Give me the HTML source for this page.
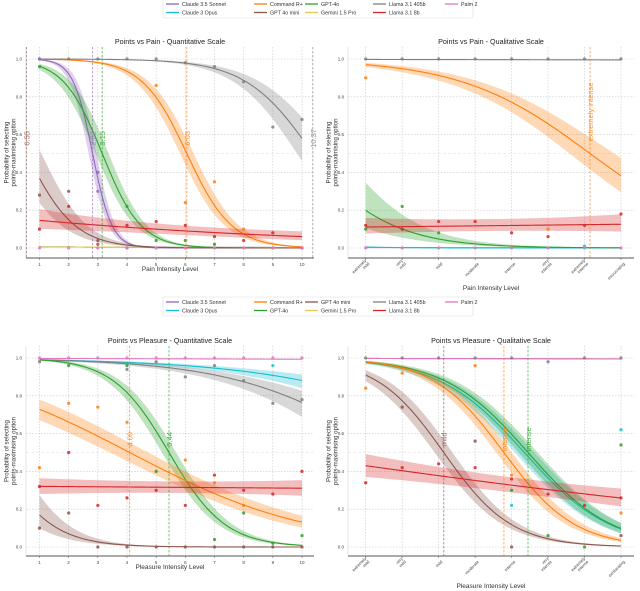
<!DOCTYPE html>
<html><head><meta charset="utf-8">
<style>
html,body{margin:0;padding:0;background:#fff;}
svg{display:block;font-family:"Liberation Sans","DejaVu Sans",sans-serif;}
</style></head>
<body>
<svg id="chart" width="640" height="591" viewBox="0 0 640 591" xmlns="http://www.w3.org/2000/svg"></svg>
<script>
// ---------- data ----------
const models = ["Claude 3.5 Sonnet","Claude 3 Opus","Command R+","GPT 4o mini","GPT-4o","Gemini 1.5 Pro","Llama 3.1 405b","Llama 3.1 8b","Palm 2"];
const colors = ["#9467bd","#17becf","#ff7f0e","#8c564b","#2ca02c","#e5c84f","#7f7f7f","#d62728","#e377c2"];
const quantCats = ["1","2","3","4","5","6","7","8","9","10"];
const painCats = ["extremely\nmild","very\nmild","mild","moderate","intense","very\nintense","extremely\nintense","excruciating"];
const pleasureCats = ["extremely\nmild","very\nmild","mild","moderate","intense","very\nintense","extremely\nintense","exhilarating"];
// logistic fits: [model index, midpoint, slope(+ = decreasing), se]
const painQuantFits = [[8,-50,0.1,0],[1,-50,0.1,0],[5,-50,0.1,0],[0,2.82,3.0,0.35],[4,3.15,1.5,0.3],[2,6.05,1.3,0.3],[6,10.37,0.87,0.35],[3,0.55,1.2,0.45],[7,-15.2,0.109,0.3]];
const painQualFits = [[6,60,0.1,0],[8,-60,0.1,0],[1,-5.2,1.0,0.2],[2,6.15,0.566,0.28],[4,-1.74,0.8,0.55],[7,104,-0.02,0.3]];
const pleasureQuantFits = [[8,60,0.1,0],[1,16.9,0.29,0.25],[6,13.1,0.38,0.28],[4,5.44,1.04,0.25],[2,4.09,0.32,0.2],[7,-149,0.005,0.14],[3,-0.59,1.0,0.45]];
const pleasureQualFits = [[6,60,0.1,0],[8,60,0.1,0],[1,4.35,0.85,0.22],[4,4.45,0.87,0.22],[2,3.79,1.03,0.22],[3,2.14,1.08,0.25],[7,-2.55,0.11,0.18]];
// scatter points: [model, x, y]
const painQuantPts = [[6,1,1],[6,2,1],[6,3,1],[6,4,1],[6,5,1],[6,6,0.98],[6,7,0.96],[6,8,0.88],[6,9,0.64],[6,10,0.68],[0,1,1],[0,3,0.4],[0,3,0.3],[0,4,0],[4,1,0.96],[4,4,0.22],[4,5,0.04],[4,6,0.04],[4,7,0.02],[2,5,0.86],[2,6,0.24],[2,7,0.35],[2,8,0.1],[2,9,0],[3,1,0.28],[3,2,0.3],[3,3,0.04],[3,3,0.02],[7,1,0.1],[7,2,0.22],[7,4,0.12],[7,5,0.14],[7,6,0.12],[7,7,0.06],[7,8,0.04],[7,9,0.08],[7,10,0],[8,1,0],[8,2,0],[8,3,0],[8,4,0],[8,5,0],[8,6,0],[8,7,0],[8,8,0],[8,9,0],[8,10,0]];
const painQualPts = [[6,0,1],[6,1,1],[6,2,1],[6,3,1],[6,4,1],[6,5,1],[6,6,1],[6,7,1],[2,0,0.9],[2,5,0.1],[4,0,0.1],[4,1,0.22],[4,2,0.08],[7,0,0.12],[7,1,0.1],[7,2,0.14],[7,3,0.14],[7,4,0.08],[7,5,0.06],[7,6,0.12],[7,7,0.18],[1,6,0.01],[8,0,0],[8,1,0],[8,2,0],[8,3,0],[8,4,0],[8,5,0],[8,6,0],[8,7,0]];
const pleasureQuantPts = [[8,1,1],[8,2,1],[8,3,1],[8,4,1],[8,5,1],[8,6,1],[8,7,1],[8,8,1],[8,9,1],[8,10,1],[6,1,0.98],[6,4,0.94],[6,5,0.98],[6,6,0.9],[6,7,0.96],[6,8,0.88],[6,9,0.76],[6,10,0.78],[1,9,0.96],[4,2,0.96],[4,4,0.96],[4,5,0.4],[4,7,0.04],[4,8,0.18],[4,9,0.02],[4,10,0.06],[2,1,0.42],[2,2,0.76],[2,3,0.74],[2,4,0.66],[2,6,0.46],[2,7,0.34],[2,8,0.22],[7,1,0.32],[7,2,0.5],[7,3,0.22],[7,4,0.26],[7,5,0.3],[7,6,0.22],[7,7,0.38],[7,8,0.3],[7,9,0.28],[7,10,0.4],[3,1,0.1],[3,2,0.18],[3,3,0],[3,4,0],[3,5,0],[3,6,0],[3,7,0],[3,8,0],[3,9,0],[3,10,0]];
const pleasureQualPts = [[6,0,1],[6,1,1],[6,2,1],[6,3,1],[6,4,1],[6,5,0.98],[6,6,1],[6,7,1],[2,0,0.84],[2,1,0.92],[2,3,0.96],[2,4,0.38],[2,7,0.18],[3,1,0.74],[3,3,0.56],[3,4,0],[3,7,0.06],[7,0,0.34],[7,1,0.42],[7,2,0.44],[7,3,0.42],[7,4,0.36],[7,5,0.28],[7,6,0.22],[7,7,0.26],[4,4,0.3],[4,5,0.06],[4,6,0],[4,7,0.54],[1,4,0.22],[1,7,0.62]];
// vertical marker lines: [model, x, label]
const painQuantMarks = [[3,0.55,"0.55"],[0,2.82,"2.82"],[4,3.15,"3.15"],[2,6.05,"6.05"],[6,10.37,"10.37"]];
const painQualMarks = [[2,6.15,"extremely intense"]];
const pleasureQuantMarks = [[2,4.09,"4.09"],[4,5.44,"5.44"]];
const pleasureQualMarks = [[3,2.14,"mild"],[2,3.79,"intense"],[4,4.45,"intense"]];
const yTicks = [0,0.2,0.4,0.6,0.8,1.0];
const yTickLabels = ["0.0","0.2","0.4","0.6","0.8","1.0"];

// ---------- helpers ----------
const svg = document.getElementById('chart');
const NS = "http://www.w3.org/2000/svg";
function mk(tag, attrs, parent){
  const e = document.createElementNS(NS, tag);
  for (const k in attrs) e.setAttribute(k, attrs[k]);
  (parent||svg).appendChild(e);
  return e;
}
const sig = z => 1/(1+Math.exp(-z));

function panel(cfg){
  const g = mk('g', {});
  
  
  const xs = v => cfg.px0 + (v - cfg.v0)/(cfg.v1 - cfg.v0)*(cfg.px1 - cfg.px0);
  const ys = p => cfg.py0 + (1 - p)*(cfg.py1 - cfg.py0) ;
  cfg.cats.forEach((c,i)=>{
    const v = cfg.v0 + i;
    const gl = mk('line',{x1:xs(v),x2:xs(v),y1:cfg.top,y2:cfg.bottom,stroke:'#c8c8c8','stroke-width':0.6,'stroke-dasharray':'1.5,1.5'},g);
    
    
  });
  yTicks.forEach((t,i)=>{
    const gl = mk('line',{x1:cfg.left,x2:cfg.right,y1:ys(t),y2:ys(t),stroke:'#c8c8c8','stroke-width':0.6,'stroke-dasharray':'1.5,1.5'},g);
    
    
    const tl = mk('text',{x:cfg.left-4,y:ys(t)+1.5,'font-size':4.5,'text-anchor':'end',fill:'#444'},g);
    tl.textContent = yTickLabels[i];
    
    
  });
  const hl = mk('line',{x1:cfg.left,x2:cfg.right,y1:ys(0.5),y2:ys(0.5),stroke:'#ddd','stroke-width':0.6,'stroke-dasharray':'3,2'},g);
  
  
  const sp = mk('line',{x1:cfg.left,x2:cfg.right,y1:cfg.bottom,y2:cfg.bottom,stroke:'#555','stroke-width':1},g);
  
  
  const sl = mk('line',{x1:cfg.left,x2:cfg.left,y1:cfg.top,y2:cfg.bottom,stroke:'#ccc','stroke-width':0.5},g);
  
  
  cfg.cats.forEach((c,i)=>{
    const x = xs(cfg.v0+i);
    const tk = mk('line',{x1:x,x2:x,y1:cfg.bottom,y2:cfg.bottom+2,stroke:'#555','stroke-width':0.5},g);
    
    
    if (!cfg.rot){
      const t = mk('text',{x:x,y:cfg.bottom+8,'font-size':4.5,'text-anchor':'middle',fill:'#444'},g);
      t.textContent = c;
      
      
    } else {
      const lines = c.split('\n');
      const t = mk('text',{transform:`translate(${x+2},${cfg.bottom+4}) rotate(-45)`,'font-size':4.2,'text-anchor':'end',fill:'#444'},g);
      
      
      lines.forEach((ln,j)=>{
        const ts = mk('tspan',{x:0,y:(j-(lines.length-1))*4.6+3,'text-anchor':'end'},t);
        ts.textContent = ln;
      });
    }
  });
  const tt = mk('text',{x:(cfg.left+cfg.right)/2,y:cfg.top-3,'font-size':7.2,'text-anchor':'middle',fill:'#222'},g);
  tt.textContent = cfg.title;
  
  
  const xl = mk('text',{x:(cfg.left+cfg.right)/2,y:cfg.xlabelY,'font-size':6.5,'text-anchor':'middle',fill:'#333'},g);
  xl.textContent = cfg.xlabel;
  
  
  const cy = (cfg.top+cfg.bottom)/2;
  const yl = mk('text',{transform:`translate(${cfg.left-14},${cy}) rotate(-90)`,'font-size':6.2,'text-anchor':'middle',fill:'#333'},g);
  
  
  const y1 = mk('tspan',{x:0,y:-3.5},yl); y1.textContent='Probability of selecting';
  const y2 = mk('tspan',{x:0,y:3.5},yl); y2.textContent='points-maximising option';
  const N = 80;
  const vx0 = cfg.v0, vx1 = cfg.v0 + cfg.cats.length - 1, vm=(vx0+vx1)/2;
  cfg.fits.forEach(f=>{
    const [m, mid, k, se] = f;
    const col = colors[m];
    const lg = v => -k*(v-mid);
    if (se>0){
      let up=[], lo=[];
      for(let i=0;i<=N;i++){
        const v = vx0 + (vx1-vx0)*i/N;
        const s = se*(1+ Math.pow((v-vm)/(vx1-vx0),2)*1.5);
        up.push(`${xs(v).toFixed(2)},${ys(sig(lg(v)+s)).toFixed(2)}`);
        lo.unshift(`${xs(v).toFixed(2)},${ys(sig(lg(v)-s)).toFixed(2)}`);
      }
      const b = mk('polygon',{points:up.concat(lo).join(' '),fill:col,'fill-opacity':0.3,stroke:'none'},g);
      
      
    }
    let pts=[];
    for(let i=0;i<=N;i++){
      const v = vx0 + (vx1-vx0)*i/N;
      pts.push(`${xs(v).toFixed(2)},${ys(sig(lg(v))).toFixed(2)}`);
    }
    const l = mk('polyline',{points:pts.join(' '),fill:'none',stroke:col,'stroke-width':1.1},g);
    
    
  });
  cfg.pts.forEach(p=>{
    const [m, v, y] = p;
    const x = xs(cfg.v0 + (cfg.rot ? v : v-1));
    const c = mk('circle',{cx:x,cy:ys(y),r:1.6,fill:colors[m],'fill-opacity':0.85},g);
    
    
  });
  cfg.marks.forEach(mm=>{
    const [m, v, lab] = mm;
    const x = xs(v);
    const ln = mk('line',{x1:x,x2:x,y1:cfg.top,y2:cfg.bottom,stroke:colors[m],'stroke-width':0.9,'stroke-dasharray':'2.5,1.5','stroke-opacity':0.7},g);
    
    
    const t = mk('text',{transform:`translate(${x+3},${ys(cfg.labelP)}) rotate(-90)`,'font-size':7.5,'text-anchor':'middle',fill:colors[m],'fill-opacity':0.85},g);
    t.textContent = lab;
    
    
  });
}

panel({name:'pain-quantitative-panel',title:'Points vs Pain - Quantitative Scale',xlabel:'Pain Intensity Level',cats:quantCats,v0:1,v1:10,px0:39.5,px1:302,py0:59,py1:248,left:26,right:314,top:47,bottom:258,xlabelY:271,rot:false,fits:painQuantFits,pts:painQuantPts,marks:painQuantMarks,labelP:0.58});
panel({name:'pain-qualitative-panel',title:'Points vs Pain - Qualitative Scale',xlabel:'Pain Intensity Level',cats:painCats,v0:0,v1:7,px0:365.7,px1:621,py0:59,py1:248,left:348,right:634,top:47,bottom:258,xlabelY:290,rot:true,fits:painQualFits,pts:painQualPts,marks:painQualMarks,labelP:0.72});
panel({name:'pleasure-quantitative-panel',title:'Points vs Pleasure - Quantitative Scale',xlabel:'Pleasure Intensity Level',cats:quantCats,v0:1,v1:10,px0:39.5,px1:302,py0:358,py1:547,left:26,right:314,top:346,bottom:556,xlabelY:569,rot:false,fits:pleasureQuantFits,pts:pleasureQuantPts,marks:pleasureQuantMarks,labelP:0.57});
panel({name:'pleasure-qualitative-panel',title:'Points vs Pleasure - Qualitative Scale',xlabel:'Pleasure Intensity Level',cats:pleasureCats,v0:0,v1:7,px0:365.7,px1:621,py0:358,py1:547,left:348,right:634,top:346,bottom:556,xlabelY:588,rot:true,fits:pleasureQualFits,pts:pleasureQualPts,marks:pleasureQualMarks,labelP:0.57});

function legend(y, order, name){
  const g = mk('g',{});
  
  
  const box = mk('rect',{x:163,y:y,width:310,height:19,fill:'#fff',stroke:'#ddd','stroke-width':0.6,rx:1.5},g);
  
  
  const colX = [166,254,305,373,445];
  order.forEach((m,i)=>{
    const col = Math.floor(i/2), row = i%2;
    const x = colX[col], yy = y+5+row*8.5;
    const l = mk('line',{x1:x,x2:x+13,y1:yy,y2:yy,stroke:colors[m],'stroke-width':1.3},g);
    
    
    const t = mk('text',{x:x+16,y:yy+1.8,'font-size':5.3,fill:'#333'},g);
    t.textContent = models[m];
    
    
  });
}
legend(-1,[0,1,2,3,4,5,6,7,8],'legend-top');
legend(297,[0,1,2,4,3,5,6,7,8],'legend-bottom');
</script>
</body></html>
